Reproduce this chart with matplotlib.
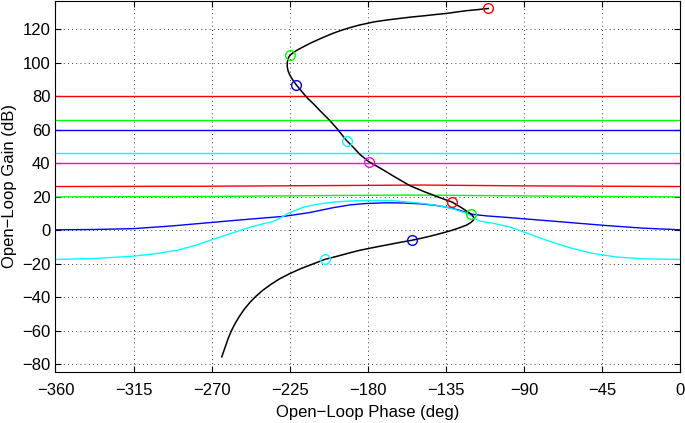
import numpy as np
import matplotlib.pyplot as plt

plt.rcParams['font.family'] = ['Liberation Sans', 'DejaVu Sans']

# open-loop locus (phase deg, gain dB)
locus_phase = [-110.7, -117.0, -123.0, -129.0, -134.3, -141.0, -148.0, -155.0, -161.4, -167.0,
               -172.0, -176.5, -180.5, -185.0, -190.0, -195.0, -200.1, -204.5, -209.0, -213.4,
               -217.3, -220.9, -223.2, -225.0, -226.0, -226.5, -226.5, -226.0, -225.0, -223.7,
               -222.5, -221.4, -219.5, -217.5, -215.0, -211.0, -207.6, -202.0, -197.8, -192.3,
               -188.0, -184.6, -179.6, -172.0, -164.0, -156.0, -148.0, -140.5, -131.5, -126.0,
               -122.5, -120.4, -119.3, -119.0, -119.5, -121.0, -123.0, -126.0, -129.0, -132.0,
               -135.0, -140.0, -145.0, -150.0, -154.5, -162.0, -169.0, -177.0, -184.6, -190.0,
               -196.0, -200.5, -204.7, -212.0, -219.0, -225.0, -231.0, -236.0, -240.5, -244.5,
               -248.0, -251.2, -254.0, -256.5, -258.7, -260.6, -262.2, -263.4, -264.2]
locus_gain = [132.3, 131.6, 131.0, 130.2, 129.4, 128.7, 127.9, 127.2, 126.4, 125.7,
              125.0, 124.3, 123.4, 122.4, 121.0, 119.4, 117.5, 115.6, 113.6, 111.5,
              109.4, 107.4, 105.8, 104.4, 102.5, 100.0, 97.5, 95.0, 92.5, 90.3,
              88.5, 86.9, 84.5, 82.0, 79.0, 75.0, 71.3, 65.5, 60.6, 53.5,
              49.0, 45.2, 41.0, 36.5, 31.5, 26.7, 23.2, 20.2, 16.8, 13.4,
              11.0, 9.5, 8.2, 7.0, 5.8, 4.5, 3.2, 2.0, 0.9, -0.1,
              -1.0, -2.4, -3.7, -4.9, -5.9, -7.3, -8.7, -10.3, -11.9, -13.3,
              -15.0, -16.2, -17.3, -20.2, -23.0, -25.8, -29.0, -32.3, -35.7, -39.3,
              -43.0, -47.0, -51.2, -55.5, -60.0, -64.7, -69.5, -73.0, -75.5]

marker_phase = [-110.7, -225.0, -221.4, -192.3, -179.6, -131.5, -120.4, -154.5, -204.7]
marker_gain = [132.3, 104.4, 86.9, 53.5, 41.0, 16.8, 9.5, -5.9, -17.3]
marker_colors = ['#ff0000', '#00ff00', '#0000ff', '#00ffff', '#ff00ff',
                 '#ff0000', '#00ff00', '#0000ff', '#00ffff']

# near-flat lines
flat_levels = [80, 66, 60, 46, 40]
flat_colors = ['#ff0000', '#00ff00', '#0000ff', '#00ffff', '#ff00ff']

red26_phase = [-360, -270, -180, -150, -90, 0]
red26_gain = [26.1, 26.3, 26.8, 27.0, 26.5, 26.1]
green20_phase = [-360, -270, -180, -150, -90, 0]
green20_gain = [19.9, 20.2, 20.9, 21.0, 20.5, 19.9]

blue_phase = [-360, -337, -315, -293, -271, -250, -228.7, -214, -200, -190, -180.8, -170,
              -160, -150, -142, -134.8, -128, -123, -120.4, -117, -111.8, -100, -90.7,
              -68, -44.7, -22, 0]
blue_gain = [0.3, 0.5, 1.0, 2.6, 4.6, 6.5, 8.3, 10.5, 13.5, 15.2, 16.0, 16.4,
             16.3, 15.8, 15.0, 13.8, 12.2, 10.5, 9.6, 9.2, 8.6, 7.7, 6.9,
             5.0, 3.0, 1.3, 0.3]

cyan_phase = [-360, -337, -315, -302, -290, -280, -271, -260, -248, -240, -235.4, -231,
              -226.8, -222, -217.2, -209, -200, -190, -180, -165, -150, -142, -134.8,
              -128, -123, -120.4, -118, -115.6, -108, -98.4, -88, -77.3, -64, -50.4,
              -37, -22, 0]
cyan_gain = [-17.4, -16.8, -15.4, -13.9, -11.9, -9.2, -6.0, -2.2, 1.8, 4.0, 5.0, 7.0,
             9.6, 11.8, 13.8, 15.6, 16.8, 17.5, 17.8, 17.6, 16.2, 15.2, 13.8,
             11.8, 10.0, 8.6, 6.8, 5.5, 4.2, 2.0, -1.8, -5.9, -10.3, -13.8,
             -15.9, -17.0, -17.4]

fig = plt.figure(figsize=(6.85, 4.23), dpi=100)
ax = fig.add_axes([0.081, 0.1206, 0.9124, 0.878])

for lvl, col in zip(flat_levels, flat_colors):
    ax.plot([-360, 0], [lvl, lvl], color=col, lw=1)
ax.plot(red26_phase, red26_gain, color='#ff0000', lw=1)
ax.plot(green20_phase, green20_gain, color='#00ff00', lw=1)
ax.plot(blue_phase, blue_gain, color='#0000ff', lw=1)
ax.plot(cyan_phase, cyan_gain, color='#00ffff', lw=1)

ax.plot(locus_phase, locus_gain, color='k', lw=1.1)
for p, g, c in zip(marker_phase, marker_gain, marker_colors):
    ax.plot(p, g, 'o', mfc='none', mec=c, ms=7, mew=1)

ax.set_xlim(-360, 0)
ax.set_ylim(-84.5, 137)
ax.set_xticks(np.arange(-360, 1, 45))
ax.set_yticks(np.arange(-80, 121, 20))
ax.grid(True, color='k', linestyle=(0, (1, 4)), linewidth=0.6)
ax.tick_params(direction='in', top=True, right=True, labelsize=12, length=4)
ax.tick_params(axis='x', pad=8)
ax.set_xlabel('Open−Loop Phase (deg)', fontsize=12, labelpad=5)
ax.set_ylabel('Open−Loop Gain (dB)', fontsize=12)

fig.savefig('out.png', dpi=100)
